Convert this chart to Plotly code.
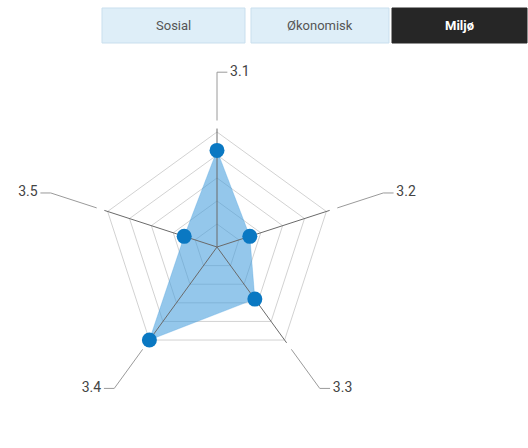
import math
import plotly.graph_objects as go

# Indicator scores for the "Miljø" tab
categories = ["3.1", "3.2", "3.3", "3.4", "3.5"]
scores = [4.2, 1.5, 2.8, 5.0, 1.5]
levels = [1, 2, 3, 4, 5]
tabs = ["Sosial", "Økonomisk", "Miljø"]
active_tab = "Miljø"

n = len(categories)
angles = [i * 360 / n for i in range(n)]  # clockwise from north
r_max = 8.4      # radial range shown
r_grid = max(levels)
r_elbow = 7.6    # where spoke leaders bend horizontally
elbow_len = 0.45  # horizontal leader length (radial units)

fig = go.Figure()

# pentagon grid rings
for lv in levels:
    fig.add_trace(go.Scatterpolar(
        r=[lv] * (n + 1), theta=angles + angles[:1], mode="lines",
        line=dict(color="#d2d2d2", width=1), hoverinfo="skip", showlegend=False,
    ))

# filled score polygon
fig.add_trace(go.Scatterpolar(
    r=scores + scores[:1], theta=angles + angles[:1],
    mode="lines", fill="toself",
    fillcolor="rgba(70,158,220,0.58)",
    line=dict(color="rgba(70,158,220,0.6)", width=0.5),
    hoverinfo="skip", showlegend=False,
))


def to_polar(x, y):
    r = math.hypot(x, y)
    th = math.degrees(math.atan2(x, y)) % 360  # clockwise from north
    return r, th


# spokes and leader lines
for ang, lab in zip(angles, categories):
    fig.add_trace(go.Scatterpolar(
        r=[0, r_grid + 0.15], theta=[ang, ang], mode="lines",
        line=dict(color="#6a6a6a", width=1), hoverinfo="skip", showlegend=False,
    ))
    ex = r_elbow * math.sin(math.radians(ang))
    ey = r_elbow * math.cos(math.radians(ang))
    side = 1 if ex >= -1e-9 else -1
    tx, ty = ex + side * elbow_len, ey
    rr, tt = to_polar(tx, ty)
    fig.add_trace(go.Scatterpolar(
        r=[r_grid + 0.5, r_elbow, rr], theta=[ang, ang, tt], mode="lines",
        line=dict(color="#9a9a9a", width=1), hoverinfo="skip",
        showlegend=False, cliponaxis=False,
    ))
    lr, lt = to_polar(tx + side * 0.12, ty)
    fig.add_trace(go.Scatterpolar(
        r=[lr], theta=[lt], mode="text", text=[lab],
        textposition="middle right" if side > 0 else "middle left",
        textfont=dict(family="Roboto, Arial", size=14, color="#444444"),
        hoverinfo="skip", showlegend=False, cliponaxis=False,
    ))

# score markers
fig.add_trace(go.Scatterpolar(
    r=scores, theta=angles, mode="markers",
    marker=dict(color="#0a78c2", size=15),
    hovertemplate="%{text}: %{r}<extra></extra>", text=categories,
    showlegend=False,
))

# plot area: center at (217, 247) px, 23 px per unit
W, H = 528, 448
cx, cy, unit = 217, 247, 23
rad_px = r_max * unit
dom_x = [(cx - rad_px) / W, (cx + rad_px) / W]
dom_y = [(H - cy - rad_px) / H, (H - cy + rad_px) / H]

fig.update_layout(
    width=W, height=H,
    margin=dict(l=0, r=0, t=0, b=0),
    paper_bgcolor="white",
    polar=dict(
        domain=dict(x=dom_x, y=dom_y),
        bgcolor="rgba(0,0,0,0)",
        radialaxis=dict(range=[0, r_max], showgrid=False, showticklabels=False,
                        showline=False, ticks=""),
        angularaxis=dict(rotation=90, direction="clockwise", thetaunit="degrees",
                         showgrid=False, showline=False, ticks="",
                         showticklabels=False),
    ),
)

# tab strip
tab_edges = [(102, 245), (251, 389), (392, 527)]
top_px, bot_px = 8, 43
shapes = []
annotations = []
for name, (x0, x1) in zip(tabs, tab_edges):
    active = name == active_tab
    shapes.append(dict(
        type="rect", xref="paper", yref="paper",
        x0=x0 / W, x1=x1 / W, y0=1 - bot_px / H, y1=1 - top_px / H,
        fillcolor="#262626" if active else "#deeef8",
        line=dict(color="#262626" if active else "#c9dfee", width=1),
        layer="below",
    ))
    annotations.append(dict(
        text=f"<b>{name}</b>" if active else name,
        xref="paper", yref="paper",
        x=(x0 + x1) / 2 / W, y=1 - (top_px + bot_px) / 2 / H,
        showarrow=False, xanchor="center", yanchor="middle",
        font=dict(family="Roboto, Arial", size=13,
                  color="white" if active else "#555555"),
    ))
fig.update_layout(shapes=shapes, annotations=annotations)

fig.write_html("out.html")
